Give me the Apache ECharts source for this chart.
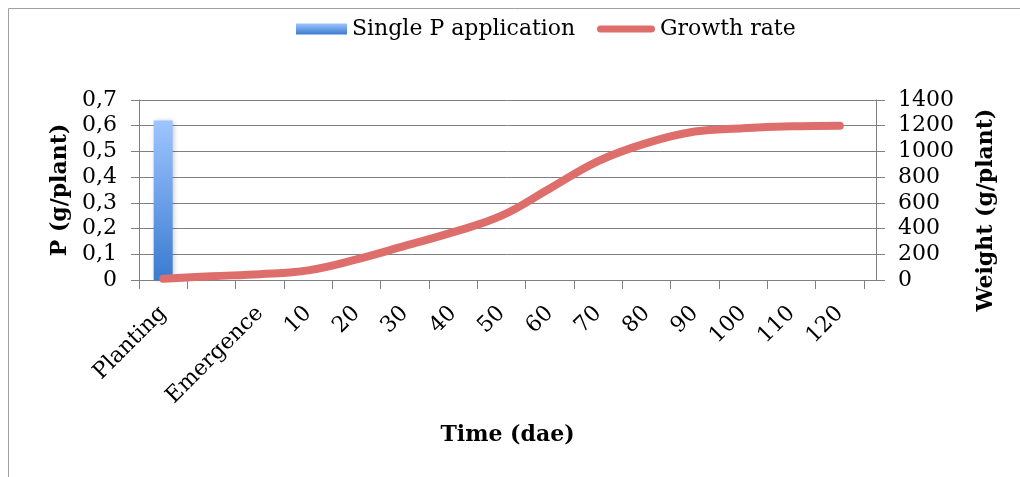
<!DOCTYPE html>
<html>
<head>
<meta charset="utf-8">
<script src="https://cdn.jsdelivr.net/npm/echarts@6/dist/echarts.min.js"></script>
<style>
  html, body { margin: 0; padding: 0; background: #ffffff; }
  #chart { width: 1020px; height: 477px; }
</style>
</head>
<body>
<div id="chart"></div>
<script>
// Time axis categories (days after emergence)
const categories = ['Planting', '', 'Emergence', '10', '20', '30', '40', '50', '60', '70', '80', '90', '100', '110', '120'];
// Phosphorus applied once at planting (g/plant)
const pApplied = [0.62, null, null, null, null, null, null, null, null, null, null, null, null, null, null];
// Plant weight over time (g/plant)
const growthRate = [10, 30, 45, 75, 160, 265, 372, 500, 712, 925, 1065, 1155, 1180, 1195, 1200];
// Tick labels of the two value axes
const pTickLabels = ['0', '0,1', '0,2', '0,3', '0,4', '0,5', '0,6', '0,7'];
const weightTickLabels = ['0', '200', '400', '600', '800', '1000', '1200', '1400'];

const FONT = 'DejaVu Serif';
const AXIS_GREY = '#808080';
const TEXT = '#000000';

const chart = echarts.init(document.getElementById('chart'), null, { renderer: 'canvas' });

const barGradient = new echarts.graphic.LinearGradient(0, 0, 0, 1, [
  { offset: 0, color: '#9EC5FF' },
  { offset: 1, color: '#3A7BD0' }
]);

const titleStyle = { fontFamily: FONT, fontWeight: 'bold', fontSize: 22, color: TEXT };
const tickStyle = { fontFamily: FONT, fontSize: 22, color: TEXT };

chart.setOption({
  animation: false,
  backgroundColor: '#ffffff',
  graphic: [{
    type: 'rect',
    shape: { x: 8.5, y: 8.5, width: 1100, height: 600 },
    style: { fill: 'none', stroke: '#A0A0A0', lineWidth: 1 },
    silent: true,
    z: -1
  }],
  legend: [{
    data: ['Single P application'],
    left: 291, top: 13,
    icon: 'rect',
    itemWidth: 51, itemHeight: 11,
    itemStyle: { shadowBlur: 0, shadowColor: 'transparent' },
    textStyle: { fontFamily: FONT, fontSize: 22, color: TEXT }
  }, {
    data: ['Growth rate'],
    left: 592, top: 13,
    icon: 'path://M3.5,0 L54.5,0 A3.5,3.5 0 0 1 54.5,7 L3.5,7 A3.5,3.5 0 0 1 3.5,0 Z',
    itemWidth: 58, itemHeight: 7,
    textStyle: { fontFamily: FONT, fontSize: 22, color: TEXT }
  }],
  grid: [
    // frame: gridlines, value axes and the horizontal baseline
    { left: 139, right: 144, top: 100, height: 180, containLabel: false },
    // data area holding the category slots
    { left: 139, right: 156, top: 100, height: 180, containLabel: false }
  ],
  xAxis: [{
    gridIndex: 0,
    type: 'value', min: 0, max: 1,
    axisLine: { show: true, lineStyle: { color: AXIS_GREY, width: 1 } },
    axisTick: { show: false },
    axisLabel: { show: false },
    splitLine: { show: false },
    name: 'Time (dae)',
    nameLocation: 'middle',
    nameGap: 144,
    nameTextStyle: titleStyle
  }, {
    gridIndex: 1,
    type: 'category',
    data: categories,
    boundaryGap: true,
    axisLine: { show: false },
    axisTick: { show: true, length: 9, lineStyle: { color: AXIS_GREY, width: 1 } },
    axisLabel: { interval: 0, rotate: 45, margin: 30, ...tickStyle },
    splitLine: { show: false }
  }],
  yAxis: [{
    gridIndex: 0,
    type: 'value', position: 'left',
    min: 0, max: 0.7, interval: 0.1,
    axisLine: { show: true, lineStyle: { color: AXIS_GREY, width: 1 } },
    axisTick: { show: true, length: 8, lineStyle: { color: AXIS_GREY } },
    axisLabel: { margin: 22, formatter: v => pTickLabels[Math.round(v * 10)], ...tickStyle },
    splitLine: { show: true, lineStyle: { color: AXIS_GREY, width: 1 } },
    name: 'P (g/plant)',
    nameLocation: 'middle',
    nameRotate: 90,
    nameGap: 67,
    nameTextStyle: titleStyle
  }, {
    gridIndex: 0,
    type: 'value', position: 'right',
    min: 0, max: 1400, interval: 200,
    axisLine: { show: true, lineStyle: { color: AXIS_GREY, width: 1 } },
    axisTick: { show: true, length: 9, lineStyle: { color: AXIS_GREY } },
    axisLabel: { margin: 22, formatter: v => weightTickLabels[Math.round(v / 200)], ...tickStyle },
    splitLine: { show: false },
    name: 'Weight (g/plant)',
    nameLocation: 'middle',
    nameRotate: 90,
    nameGap: 99,
    nameTextStyle: { ...titleStyle, padding: [0, 40, 0, 0] }
  }, {
    gridIndex: 1, type: 'value', min: 0, max: 0.7, show: false
  }, {
    gridIndex: 1, type: 'value', min: 0, max: 1400, show: false
  }],
  series: [{
    name: 'Single P application',
    type: 'bar',
    xAxisIndex: 1, yAxisIndex: 2,
    data: pApplied,
    barWidth: 19,
    itemStyle: {
      color: barGradient,
      shadowBlur: 5,
      shadowColor: 'rgba(0,0,0,0.25)',
      shadowOffsetX: 1
    },
    z: 2
  }, {
    name: 'Growth rate',
    type: 'line',
    xAxisIndex: 1, yAxisIndex: 3,
    data: growthRate,
    smooth: 0.4,
    symbol: 'none',
    color: '#DD6E6B',
    lineStyle: { color: '#DD6E6B', width: 8, cap: 'round', join: 'round' },
    itemStyle: { color: '#DD6E6B' },
    z: 3
  }]
});
</script>
</body>
</html>
